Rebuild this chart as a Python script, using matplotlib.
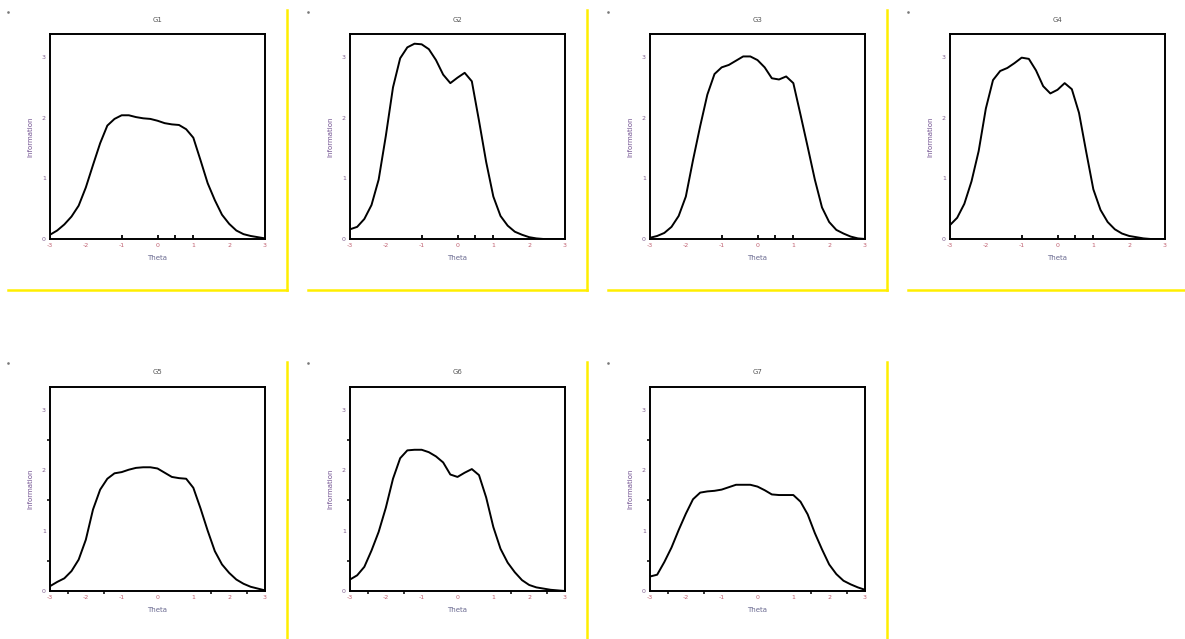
import numpy as np
import matplotlib
matplotlib.use("Agg")
import matplotlib.pyplot as plt
from matplotlib.lines import Line2D

# theta grid and test information for each group
theta = [-3.0, -2.8, -2.6, -2.4, -2.2, -2.0, -1.8, -1.6, -1.4, -1.2, -1.0,
         -0.8, -0.6, -0.4, -0.2, 0.0, 0.2, 0.4, 0.6, 0.8, 1.0,
         1.2, 1.4, 1.6, 1.8, 2.0, 2.2, 2.4, 2.6, 2.8, 3.0]

g1 = [0.07, 0.14, 0.24, 0.37, 0.55, 0.85, 1.22, 1.58, 1.87, 1.98, 2.04,
      2.04, 2.01, 1.99, 1.98, 1.95, 1.91, 1.89, 1.88, 1.81, 1.67,
      1.30, 0.92, 0.64, 0.40, 0.25, 0.14, 0.08, 0.05, 0.03, 0.01]
g2 = [0.16, 0.20, 0.33, 0.56, 0.98, 1.70, 2.50, 2.98, 3.16, 3.22, 3.21,
      3.13, 2.95, 2.71, 2.57, 2.66, 2.74, 2.60, 1.95, 1.27, 0.70,
      0.38, 0.22, 0.12, 0.07, 0.03, 0.01, 0.0, 0.0, 0.0, 0.0]
g3 = [0.02, 0.05, 0.10, 0.20, 0.38, 0.70, 1.30, 1.86, 2.38, 2.72, 2.83,
      2.87, 2.94, 3.01, 3.01, 2.95, 2.83, 2.65, 2.63, 2.68, 2.57,
      2.05, 1.52, 0.98, 0.52, 0.28, 0.15, 0.09, 0.04, 0.01, 0.0]
g4 = [0.23, 0.35, 0.58, 0.95, 1.45, 2.15, 2.62, 2.77, 2.82, 2.90, 2.99,
      2.97, 2.78, 2.52, 2.40, 2.46, 2.57, 2.47, 2.08, 1.44, 0.82,
      0.48, 0.28, 0.16, 0.09, 0.05, 0.03, 0.01, 0.0, 0.0, 0.0]
g5 = [0.08, 0.15, 0.21, 0.33, 0.52, 0.85, 1.35, 1.68, 1.86, 1.95, 1.97,
      2.01, 2.04, 2.05, 2.05, 2.03, 1.96, 1.89, 1.87, 1.86, 1.71,
      1.37, 1.00, 0.66, 0.44, 0.30, 0.19, 0.12, 0.07, 0.04, 0.01]
g6 = [0.19, 0.26, 0.40, 0.67, 0.98, 1.38, 1.86, 2.20, 2.33, 2.34, 2.34,
      2.30, 2.23, 2.13, 1.93, 1.89, 1.96, 2.02, 1.92, 1.55, 1.06,
      0.70, 0.47, 0.31, 0.18, 0.10, 0.06, 0.04, 0.02, 0.01, 0.0]
g7 = [0.24, 0.27, 0.48, 0.72, 1.01, 1.28, 1.52, 1.63, 1.65, 1.66, 1.68,
      1.72, 1.76, 1.76, 1.76, 1.73, 1.67, 1.60, 1.59, 1.59, 1.59,
      1.48, 1.27, 0.96, 0.69, 0.44, 0.28, 0.17, 0.11, 0.06, 0.02]

groups = ["G1", "G2", "G3", "G4", "G5", "G6", "G7"]
info = [g1, g2, g3, g4, g5, g6, g7]
xticks = [-3, -2, -1, 0, 1, 2, 3]
yticks = [0, 1, 2, 3]
# short rug marks along the theta axis in the top row
rug = [-1, 0, 0.5, 1]

W, H = 1185, 639
fig = plt.figure(figsize=(W / 100, H / 100), dpi=100)

def fx(px):
    return px / W

def fy(py):
    return 1 - py / H

yellow = "#ffee00"
for i, (name, vals) in enumerate(zip(groups, info)):
    row, col = divmod(i, 4)
    x0 = 50 + 300 * col
    top = 34 if row == 0 else 387
    bot = 239 if row == 0 else 591
    ax = fig.add_axes([fx(x0), fy(bot), fx(215), (bot - top) / H])
    ax.plot(theta, vals, color="black", lw=1.4, zorder=3)
    ax.set_xlim(-3, 3)
    ax.set_ylim(0, 3.38)
    ax.set_xticks(xticks)
    ax.set_yticks(yticks)
    ax.set_xticklabels([str(t) for t in xticks], fontsize=4.5, color="#c06070")
    ax.set_yticklabels([str(t) for t in yticks], fontsize=4.5, color="#806090")
    ax.tick_params(length=0, pad=3)
    if row == 0:
        ax.plot(rug, [0] * len(rug), linestyle="none", marker=2, ms=3,
                mew=1.3, color="black", clip_on=False)
    else:
        ax.set_xticks([-2.5, -1.5, 1.5, 2.5], minor=True)
        ax.set_yticks([0.5, 1.5, 2.5], minor=True)
        ax.tick_params(which="minor", direction="out", length=2.5, width=1.1)
    for s in ax.spines.values():
        s.set_linewidth(1.4)
    ax.set_title(name, fontsize=5, color="#555555", pad=9)
    ax.set_xlabel("Theta", fontsize=5, color="#6a6a90", labelpad=5)
    ax.set_ylabel("Information", fontsize=5, color="#705090", labelpad=6)

    # frame decoration around each panel
    px0 = 8 + 300 * col
    if row == 0:
        fig.add_artist(Line2D([fx(px0), fx(px0 + 279 if col < 3 else W)],
                              [fy(290), fy(290)], color=yellow, lw=1.8))
        if col < 3:
            fig.add_artist(Line2D([fx(px0 + 279), fx(px0 + 279)],
                                  [fy(10), fy(290)], color=yellow, lw=1.8))
        fig.add_artist(Line2D([fx(px0)], [fy(12)], marker="s", ms=0.8,
                              color="#777777", lw=0))
    else:
        fig.add_artist(Line2D([fx(px0 + 279), fx(px0 + 279)],
                              [fy(362), fy(H)], color=yellow, lw=1.8))
        fig.add_artist(Line2D([fx(px0)], [fy(363)], marker="s", ms=0.8,
                              color="#777777", lw=0))

fig.savefig("out.png", dpi=100)
